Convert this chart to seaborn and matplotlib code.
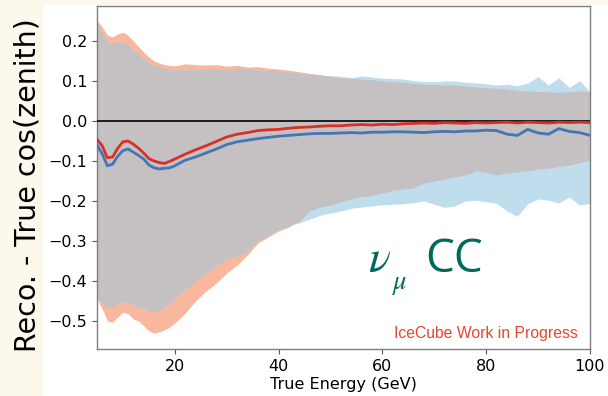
import numpy as np
import pandas as pd
import matplotlib
matplotlib.use("Agg")
import matplotlib.pyplot as plt
from matplotlib.patches import Rectangle
import seaborn as sns

# True neutrino energy bins (GeV)
energy = [5, 6, 7, 8, 9, 10, 11, 12, 13, 14, 15, 16, 17, 18, 19, 20,
          22, 24, 26, 28, 30, 32, 34, 36, 38, 40, 42, 44, 46, 48, 50,
          52, 54, 56, 58, 60, 62, 64, 66, 68, 70, 72, 74, 76, 78, 80,
          82, 84, 86, 88, 90, 92, 94, 96, 98, 100]

# Reconstruction A (red): median and spread band
median_a = [-0.046, -0.062, -0.092, -0.090, -0.068, -0.052, -0.050, -0.058, -0.068, -0.080,
            -0.094, -0.100, -0.104, -0.106, -0.101, -0.095,
            -0.083, -0.072, -0.062, -0.051, -0.040, -0.033, -0.029, -0.024, -0.022, -0.021,
            -0.018, -0.016, -0.015, -0.013, -0.012, -0.012, -0.010, -0.009, -0.010, -0.008,
            -0.009, -0.007, -0.006, -0.005, -0.006, -0.004, -0.005, -0.006, -0.004, -0.005,
            -0.004, -0.003, -0.005, -0.003, -0.004, -0.005, -0.003, -0.004, -0.003, -0.004]
upper_a = [0.252, 0.235, 0.215, 0.210, 0.218, 0.222, 0.214, 0.200, 0.186, 0.172,
           0.160, 0.150, 0.145, 0.141, 0.139, 0.138,
           0.143, 0.141, 0.140, 0.141, 0.137, 0.139, 0.135, 0.136, 0.132, 0.130,
           0.127, 0.123, 0.119, 0.116, 0.112, 0.108, 0.107, 0.105, 0.103, 0.100,
           0.098, 0.097, 0.094, 0.092, 0.091, 0.090, 0.090, 0.088, 0.085, 0.083,
           0.082, 0.080, 0.077, 0.075, 0.074, 0.073, 0.072, 0.073, 0.075, 0.074]
lower_a = [-0.445, -0.470, -0.500, -0.503, -0.490, -0.478, -0.482, -0.495, -0.500, -0.512,
           -0.525, -0.530, -0.527, -0.522, -0.515, -0.505,
           -0.480, -0.450, -0.425, -0.405, -0.380, -0.360, -0.335, -0.305, -0.290, -0.275,
           -0.265, -0.250, -0.225, -0.215, -0.210, -0.202, -0.195, -0.189, -0.186, -0.180,
           -0.173, -0.170, -0.167, -0.155, -0.150, -0.145, -0.140, -0.135, -0.125, -0.128,
           -0.135, -0.130, -0.127, -0.124, -0.120, -0.118, -0.114, -0.110, -0.104, -0.098]

# Reconstruction B (blue): median and spread band
median_b = [-0.060, -0.082, -0.112, -0.108, -0.088, -0.074, -0.070, -0.078, -0.086, -0.095,
            -0.110, -0.117, -0.120, -0.118, -0.117, -0.112,
            -0.098, -0.090, -0.080, -0.070, -0.059, -0.052, -0.048, -0.044, -0.041, -0.038,
            -0.036, -0.034, -0.032, -0.031, -0.031, -0.030, -0.029, -0.030, -0.028, -0.028,
            -0.027, -0.027, -0.028, -0.029, -0.027, -0.026, -0.027, -0.025, -0.025, -0.023,
            -0.024, -0.033, -0.036, -0.021, -0.030, -0.033, -0.019, -0.026, -0.029, -0.036]
upper_b = [0.240, 0.220, 0.200, 0.196, 0.198, 0.197, 0.190, 0.178, 0.167, 0.157,
           0.146, 0.139, 0.135, 0.131, 0.129, 0.128,
           0.129, 0.128, 0.129, 0.130, 0.130, 0.131, 0.132, 0.128, 0.127, 0.126,
           0.123, 0.120, 0.117, 0.115, 0.113, 0.112, 0.108, 0.113, 0.110, 0.107,
           0.106, 0.105, 0.101, 0.099, 0.098, 0.100, 0.100, 0.097, 0.095, 0.093,
           0.090, 0.092, 0.088, 0.095, 0.111, 0.090, 0.108, 0.084, 0.101, 0.073]
lower_b = [-0.440, -0.455, -0.468, -0.465, -0.455, -0.452, -0.455, -0.460, -0.465, -0.470,
           -0.476, -0.477, -0.472, -0.466, -0.455, -0.442,
           -0.422, -0.400, -0.380, -0.362, -0.345, -0.338, -0.327, -0.300, -0.285, -0.272,
           -0.262, -0.255, -0.245, -0.236, -0.230, -0.225, -0.218, -0.215, -0.212, -0.210,
           -0.208, -0.207, -0.204, -0.200, -0.208, -0.216, -0.212, -0.200, -0.198, -0.202,
           -0.206, -0.225, -0.238, -0.207, -0.195, -0.198, -0.205, -0.190, -0.210, -0.206]

E = np.array(energy)
df = pd.DataFrame({
    "energy": energy * 2,
    "median": median_a + median_b,
    "reco": ["A"] * len(energy) + ["B"] * len(energy),
})

sns.set_style("ticks")
plt.rcParams["font.family"] = ["DejaVu Sans"]

fig = plt.figure(figsize=(6.08, 3.96), dpi=100)
fig.patch.set_facecolor("white")
cream = "#fdf8ec"
fig.patches.append(Rectangle((0, 0), 43 / 608, 1, transform=fig.transFigure,
                             facecolor=cream, edgecolor="none", zorder=-10))
fig.patches.append(Rectangle((0, 1 - 5 / 396), 1, 5 / 396, transform=fig.transFigure,
                             facecolor=cream, edgecolor="none", zorder=-10))

ax = fig.add_axes([97 / 608, 47 / 396, 493 / 608, 343 / 396])

orange = "#f9b89d"
blue = "#bfdded"
grey = "#c5c0c2"
ax.fill_between(E, lower_a, upper_a, color=orange, lw=0, zorder=1)
ax.fill_between(E, lower_b, upper_b, color=blue, lw=0, zorder=1)
ax.fill_between(E, np.maximum(lower_a, lower_b), np.minimum(upper_a, upper_b),
                color=grey, lw=0, zorder=2)

ax.axhline(0, color="black", lw=1.2, zorder=3)

sns.lineplot(data=df, x="energy", y="median", hue="reco",
             palette={"A": "#d73027", "B": "#4575b4"}, lw=2.0,
             legend=False, ax=ax, zorder=4)

ax.set_xlim(5, 100)
ax.set_ylim(-0.57, 0.2875)
ax.set_xticks([20, 40, 60, 80, 100])
ax.set_yticks([-0.5, -0.4, -0.3, -0.2, -0.1, 0.0, 0.1, 0.2])
ax.tick_params(labelsize=11.5, color="#555555", length=3.5, labelcolor="black")
for s in ax.spines.values():
    s.set_color("#7f7f7f")
    s.set_linewidth(1.0)
    s.set_visible(True)

ax.set_xlabel("True Energy (GeV)", fontsize=11.5, labelpad=2, color="black")
ax.set_ylabel("")
fig.text(28 / 608, 1 - 185 / 396, "Reco. - True cos(zenith)", rotation=90,
         ha="center", va="center", fontsize=20.5, color="black")

teal = "#00695a"
ax.text(0.574, 0.2245, r"$\nu$", transform=ax.transAxes, ha="center", va="baseline",
        fontsize=33, color=teal, math_fontfamily="stix")
ax.text(0.6146, 0.175, r"$\mu$", transform=ax.transAxes, ha="center", va="baseline",
        fontsize=19, color=teal, math_fontfamily="stix")
ax.text(0.665, 0.2245, "CC", transform=ax.transAxes, ha="left", va="baseline",
        fontsize=33, color=teal, family="Open Sans")
ax.text(0.9757, 0.032, "IceCube Work in Progress", transform=ax.transAxes,
        ha="right", va="baseline", fontsize=11.3, color="#e8452c",
        family="Liberation Sans")

fig.savefig("out.png", dpi=100)
